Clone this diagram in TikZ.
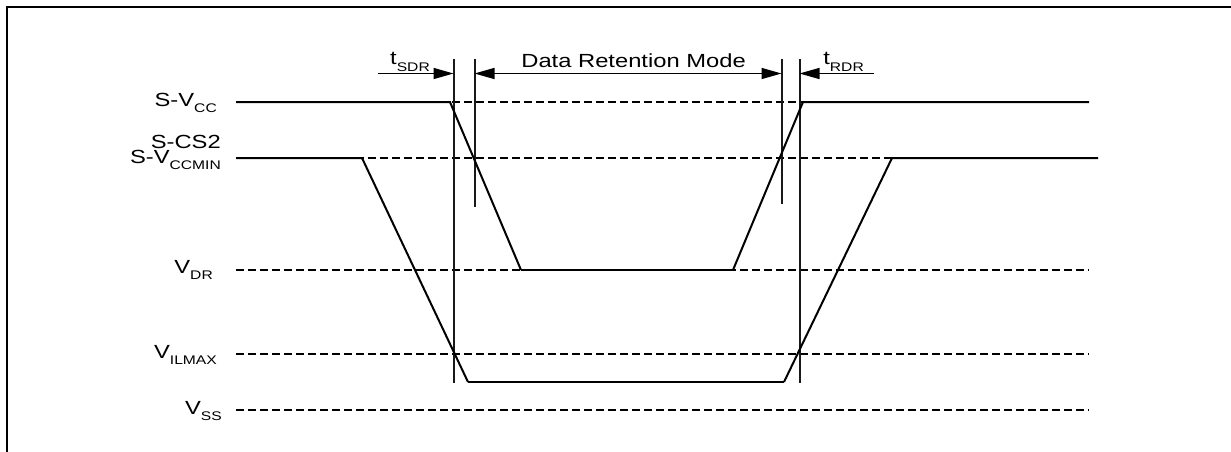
\documentclass[tikz,border=0pt]{standalone}
\usepackage{fontspec}
\setmainfont[FakeStretch=1.25]{Liberation Sans}
\usetikzlibrary{arrows.meta}
\newcommand{\lowtext}[1]{\raisebox{-6pt}{\fontsize{12.5}{12.5}\selectfont #1}}
\tikzset{
    siglabel/.style={anchor=base east, inner sep=0pt, font=\fontsize{19}{19}\selectfont},
    sigline/.style={line width=2pt, line join=miter},
    flatline/.style={line width=1.4pt},
    refline/.style={line width=1.6pt, dash pattern=on 8pt off 4pt},
    cursor/.style={line width=2pt, draw=black!90},
    dimline/.style={line width=1.5pt, -{Triangle[length=20pt,width=11pt]}},
    dimboth/.style={line width=1.5pt, {Triangle[length=20pt,width=11pt]}-{Triangle[length=20pt,width=11pt]}}
}
\begin{document}
\begin{tikzpicture}[x=1pt,y=-1pt]
    \useasboundingbox (0,0) rectangle (1231,452);
    % Marco
    \draw[line width=2pt] (7,452)-- (7,7.5)-- (1231,7.5);
    % Etiquetas
    \node[siglabel] (lblvcc) at (217,106) {S-V\lowtext{CC}};
    \node[siglabel] (lblcs) at (221,148) {S-CS2};
    \node[siglabel] (lblmin) at (221,163) {S-V\lowtext{CCMIN}};
    \node[siglabel] (lbldr) at (213,273) {V\lowtext{DR}};
    \node[siglabel] (lblil) at (217,358) {V\lowtext{ILMAX}};
    \node[siglabel] (lblss) at (222,414) {V\lowtext{SS}};
    \node[siglabel] (lblsdr) at (430,65) {t\lowtext{SDR}};
    \node[siglabel] (lblrdr) at (864,65) {t\lowtext{RDR}};
    \node[siglabel] (lblmode) at (746,67) {Data Retention Mode};
    % Niveles punteados
    \foreach \name/\ypos in {vcc/102,min/158,dr/270,il/354,ss/410} {
        \coordinate (\name a) at (236,\ypos);
        \coordinate (\name b) at (1089,\ypos);
        \draw[refline] (\name a)-- (\name b);
    }
    % Cursores verticales
    \foreach \name/\xpos/\yend in {sa/453.5/382.5,sb/474.5/207,ra/781.5/204,rb/799.5/382.5} {
        \coordinate (\name t) at (\xpos,59);
        \coordinate (\name e) at (\xpos,\yend);
        \coordinate (\name m) at (\xpos,73.5);
        \draw[cursor] (\name t)-- (\name e);
    }
    % Cotas
    \coordinate (sdrfree) at (378,73.5);
    \coordinate (rdrfree) at (874,73.5);
    \draw[dimline] (sdrfree)-- (sam);
    \draw[dimline] (rdrfree)-- (rbm);
    \draw[dimboth] (sbm)-- (ram);
    % Señal S-VCC
    \coordinate (acca) at (450,102);
    \coordinate (accb) at (521,270);
    \coordinate (accc) at (733,270);
    \coordinate (accd) at (803,102);
    \coordinate (acce) at (1089,102);
    \draw[sigline] (vcca)-- (acca)-- (accb);
    \draw[flatline] (accb)-- (accc);
    \draw[sigline] (accc)-- (accd)-- (acce);
    % Señal S-CS2
    \coordinate (csa) at (362,158);
    \coordinate (csb) at (468,382);
    \coordinate (csc) at (784,382);
    \coordinate (csd) at (892,158);
    \coordinate (cse) at (1098,158);
    \draw[sigline] (mina)-- (csa)-- (csb);
    \draw[flatline] (csb)-- (csc);
    \draw[sigline] (csc)-- (csd)-- (cse);
\end{tikzpicture}
\end{document}
